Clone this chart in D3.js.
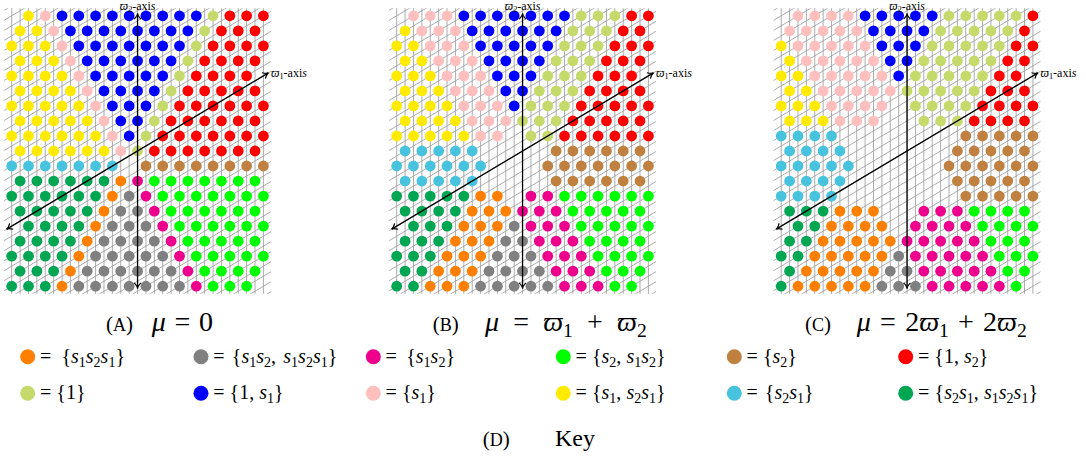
<!DOCTYPE html>
<html><head><meta charset="utf-8">
<script src="https://cdn.jsdelivr.net/npm/d3@7"></script>
<style>
body{margin:0;background:#fff;}
svg{display:block;}
text{font-family:"Liberation Serif","DejaVu Serif",serif;fill:#000;white-space:pre;}
</style>
</head><body>
<svg id="chart" width="1086" height="459" font-family="Liberation Serif, DejaVu Serif, serif"></svg>
<script>
// ---- category codes, colours and legend labels ----
const codes = ["o","g","m","n","b","r","l","u","p","y","c","d"];
const colors = ["#FF8000","#808080","#EC008C","#00FF00","#BF8040","#FF0000",
                "#C6D96B","#0000FF","#FFBFBF","#FFEA00","#47C3DD","#00A651"];
const legendLabels = ["= {s_1s_2s_1}","= {s_1s_2, s_1s_2s_1}","= {s_1s_2}","= {s_2, s_1s_2}","= {s_2}","= {1, s_2}",
                      "= {1}","= {1, s_1}","= {s_1}","= {s_1, s_2s_1}","= {s_2s_1}","= {s_2s_1, s_1s_2s_1}"];

// ---- dot colours per lattice row (top to bottom); '.' = no dot ----
const panelA = [
". y p uuuuuuuuu l rrr",
"yy p uuuuuuuu l rrr",
"yyy p uuuuuuu l rrrr",
"yyy p uuuuuu l rrrr",
"yyyy p uuuuu l rrrr .",
"yyyy p uuuu l rrrrr",
"yyyyy p uuu l rrrrrr",
"yyyyy p uu l rrrrrr",
"yyyyyy p u l rrrrrrr",
"yyyyyy p l rrrrrrr",
"ccccccc . bbbbbbbb",
"dddddd o m nnnnnnn",
"dddddd o g m nnnnnnn",
"ddddd o gg m nnnnnn",
". dddd o ggg m nnnnnn",
"dddd o gggg m nnnnn",
"dddd o ggggg m nnnnn",
"ddd o gggggg m nnnn",
"ddd o ggggggg m nnn ."
];
const panelB = [
". ppp uuuuuuu lll rr",
"y ppp uuuuuu lll rr",
"yy ppp uuuuu lll rrr",
"yy ppp uuuu lll rrr",
"yyy ppp uuu lll rrr .",
"yyy ppp uu lll rrrr",
"yyyy ppp u lll rrrrr",
"yyyy ppp lll rrrrr",
"yyyyy pp . ll rrrrrr",
"ccccc .... bbbbbb",
"cccccc ... bbbbbbb",
"ccccc .... bbbbbb",
"ddddd oo . mm nnnnnn",
"dddd ooo mmm nnnnn",
". ddd ooo g mmm nnnnn",
"ddd ooo gg mmm nnnn",
"ddd ooo ggg mmm nnnn",
"dd ooo gggg mmm nnn",
"dd ooo ggggg mmm nn ."
];
const panelC = [
". pppp uuuuu lllll r",
"ppppp uuuu lllll r",
"y ppppp uuu lllll rr",
"y ppppp uu lllll rr",
"yy ppppp u lllll rr .",
"yy ppppp lllll rrr",
"yyy pppp . llll rrrr",
"yyy ppp .. lll rrrr",
"cccc ....... bbbbb",
"cccc ...... bbbbb",
"ccccc ..... bbbbbb",
"cccc ...... bbbbb",
"cccc ....... bbbbb",
"ddd ooo .. mmm nnnn",
". dd oooo . mmmm nnnn",
"dd ooooo mmmmm nnn",
"dd ooooo g mmmmm nnn",
"d ooooo gg mmmmm nn",
"d ooooo ggg mmmmm n ."
];
const panelRows = [panelA, panelB, panelC];
const panelTags = ["A","B","C"];
const panelFormulas = ["μ = 0","μ = ϖ_1 + ϖ_2","μ = 2ϖ_1 + 2ϖ_2"];
const keyTag = "D", keyTitle = "Key";

// ---- layout ----
const svg = d3.select("#chart");
const panelLeft = [11.7, 396.7, 781.2];
const latticeWidth = 251.7;
const colorOf = d3.scaleOrdinal().domain(codes).range(colors);

// math-like text: italic s/μ/ϖ, "_d" subscripts; spaces widened to reach a target width
function addMath(t, str, fs, target, subDrop){
  const drop = fs*(subDrop===undefined?0.2:subDrop);
  let shifted = false;
  const spaces = [];
  for (let i=0;i<str.length;i++){
    const ch = str[i];
    if (ch === "_"){
      t.append("tspan").text(str[i+1]).attr("font-size", fs*0.7).attr("dy", shifted?0:drop);
      shifted = true; i++;
    } else {
      const ts = t.append("tspan").text(ch);
      if (shifted){ ts.attr("dy", -drop); shifted=false; }
      if (/[sμϖ]/.test(ch)) ts.attr("font-style","italic");
      if (ch === " ") spaces.push(ts);
    }
  }
  if (target && spaces.length){
    const w = t.node().getComputedTextLength();
    const extra = target - w;
    if (extra > 0) spaces.forEach(s => s.attr("dx", extra/spaces.length));
  }
}

function arrowHead(g, x, y, ang){
  const L = 5.5, W = 3.4;
  const ux = Math.cos(ang), uy = Math.sin(ang);
  const bx = x - ux*L, by = y - uy*L;
  const px = -uy*W, py = ux*W;
  g.append("path")
    .attr("d", `M${bx+px},${by+py} Q${x-ux*2},${y-uy*2} ${x},${y} Q${x-ux*2},${y-uy*2} ${bx-px},${by-py}`)
    .attr("fill","none").attr("stroke","#000").attr("stroke-width",1.2);
}

panelRows.forEach((rows, pi) => {
  const x = d3.scaleLinear().domain([0,30]).range([panelLeft[pi], panelLeft[pi]+latticeWidth]);
  const y = d3.scaleLinear().domain([0,18]).range([15.8, 286.2]);
  const g = svg.append("g");
  const clipId = "clip"+pi;
  svg.append("clipPath").attr("id", clipId).append("rect")
    .attr("x", x(-0.9)).attr("y", y(-0.5))
    .attr("width", x(30.9)-x(-0.9)).attr("height", y(18.5)-y(-0.5));
  const grid = g.append("g").attr("clip-path", `url(#${clipId})`)
    .attr("stroke","#a3a3a3").attr("stroke-width",0.9);
  d3.range(0,31).forEach(c => {
    grid.append("line").attr("x1",x(c)).attr("x2",x(c)).attr("y1",y(-1)).attr("y2",y(19));
  });
  d3.range(-2,90,2).forEach(k => {
    // line c + 3r = k
    grid.append("line").attr("x1",x(k+3)).attr("y1",y(-1)).attr("x2",x(k-60)).attr("y2",y(20));
  });
  // dots
  const dots = [];
  rows.forEach((s, r) => {
    const str = s.replace(/ /g,"");
    for (let i=0;i<str.length;i++){
      if (str[i] !== ".") dots.push({c:(r%2)+2*i, r, k:str[i]});
    }
  });
  g.selectAll("circle.dot").data(dots).enter().append("circle")
    .attr("cx", d=>x(d.c)).attr("cy", d=>y(d.r)).attr("r",5.4)
    .attr("fill", d=>colorOf(d.k));
  // axes
  const ax = g.append("g").attr("stroke","#000").attr("stroke-width",1.3);
  const ox = 15, oy = 9, tD = 5.2, tV = 9.15;
  ax.append("line").attr("x1",x(ox)).attr("x2",x(ox)).attr("y1",y(oy-tV)).attr("y2",y(oy+tV));
  ax.append("line").attr("x1",x(ox-3*tD)).attr("y1",y(oy+tD)).attr("x2",x(ox+3*tD)).attr("y2",y(oy-tD));
  arrowHead(g, x(ox), y(oy-tV), -Math.PI/2);
  arrowHead(g, x(ox), y(oy+tV), Math.PI/2);
  const dAng = Math.atan2(y(oy-tD)-y(oy), x(ox+3*tD)-x(ox));
  arrowHead(g, x(ox+3*tD), y(oy-tD), dAng);
  arrowHead(g, x(ox-3*tD), y(oy+tD), dAng+Math.PI);
  // axis labels
  const l2 = g.append("text").attr("x", x(ox)).attr("y", 10.4).attr("text-anchor","middle").attr("font-size",11.8);
  addMath(l2, "ϖ_2-axis", 11.8, 0, 0.12);
  const l1 = g.append("text").attr("x", x(ox+3*tD)+2.5).attr("y", y(oy-tD)+4).attr("font-size",12);
  addMath(l1, "ϖ_1-axis", 12);
});

// ---- captions ----
const tagFS = 21, formFS = 28;
const capTagX = [106, 432.7, 805], capFormX = [151.7, 485, 856.7], capFormW = [61.3, 161.7, 170];
function tagText(x, y, tag){
  const t = svg.append("text").attr("x", x).attr("y", y).attr("font-size", tagFS);
  t.append("tspan").text("(");
  t.append("tspan").text(tag).attr("font-size", tagFS*0.86);
  t.append("tspan").text(")");
}
panelTags.forEach((tag, i) => {
  tagText(capTagX[i], 331, tag);
  const f = svg.append("text").attr("x", capFormX[i]).attr("y", 331).attr("font-size", formFS);
  addMath(f, panelFormulas[i], formFS, capFormW[i]);
});
tagText(482.7, 446, keyTag);
svg.append("text").attr("x", 555).attr("y", 446).attr("font-size", 24).text(keyTitle);

// ---- legend ----
const legX = [27.7, 201, 373.3, 563.3, 734.3, 905.7];
const legY = [356.7, 393.3];
const legW = [85, 124, 69.4, 90, 50, 65, 45, 68, 50, 90, 67, 120];
const legFS = 20;
codes.forEach((code, i) => {
  const cx = legX[i%6], cy = legY[Math.floor(i/6)];
  svg.append("circle").attr("cx",cx).attr("cy",cy).attr("r",7.5).attr("fill",colorOf(code));
  const t = svg.append("text").attr("x", cx+12.3).attr("y", cy+6).attr("font-size", legFS);
  addMath(t, legendLabels[i], legFS, legW[i]);
});
</script>
</body></html>
